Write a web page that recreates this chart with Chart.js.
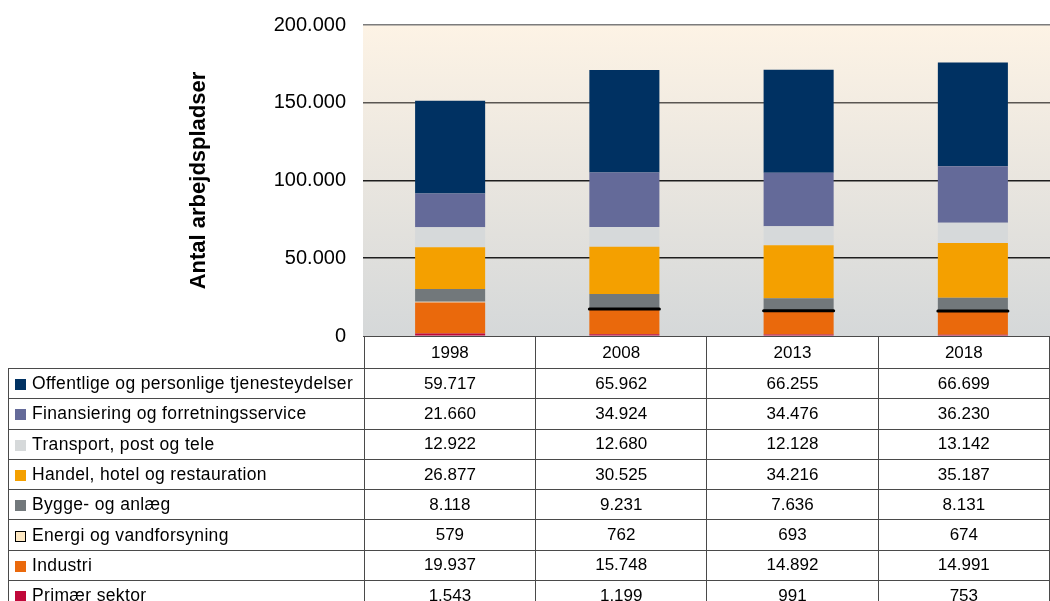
<!DOCTYPE html>
<html>
<head>
<meta charset="utf-8">
<script src="https://cdn.jsdelivr.net/npm/chart.js@4"></script>
<style>
  html, body { margin: 0; padding: 0; background: #fff; width: 1050px; height: 601px; overflow: hidden; position: relative; }
  #wrap { position: absolute; left: 0; top: 0; width: 1062px; height: 352px; z-index: 1; }
  #tbl { position: absolute; left: 8px; top: 336px; z-index: 2; border-collapse: collapse; table-layout: fixed; font-family: "Liberation Sans", Arial, sans-serif; color: #000; }
  #tbl td { border: 1px solid #4a4a4a; padding: 0; height: 29.3px; text-align: center; font-size: 17px; white-space: nowrap; overflow: hidden; background: #fff; }
  #tbl tr.head td { height: 31px; }
  #tbl tr.head td.blank { border: none; border-bottom: 1px solid #4a4a4a; background: transparent; }
  #tbl td.lab { text-align: left; padding-left: 6px; font-size: 17.5px; letter-spacing: 0.35px; }
  .mk { display: inline-block; width: 11px; height: 11px; margin-right: 6px; vertical-align: -1px; box-sizing: border-box; }
</style>
</head>
<body>
<div id="wrap"><canvas id="c" width="1062" height="352"></canvas></div>
<table id="tbl">
  <colgroup><col style="width:356px"><col style="width:174px"><col style="width:174px"><col style="width:174px"><col style="width:174px"></colgroup>
  <tbody id="tb"></tbody>
</table>
<script>
const years = ['1998', '2008', '2013', '2018'];
const offentlige = [59717, 65962, 66255, 66699];
const finansiering = [21660, 34924, 34476, 36230];
const transport = [12922, 12680, 12128, 13142];
const handel = [26877, 30525, 34216, 35187];
const bygge = [8118, 9231, 7636, 8131];
const energi = [579, 762, 693, 674];
const industri = [19937, 15748, 14892, 14991];
const primaer = [1543, 1199, 991, 753];
const yTicks = [0, 50000, 100000, 150000, 200000];
const yAxisTitle = 'Antal arbejdspladser';

// stacking order bottom -> top
const series = [
  { label: 'Primær sektor', data: primaer, color: '#c0083a' },
  { label: 'Industri', data: industri, color: '#ea690c' },
  { label: 'Energi og vandforsyning', data: energi, color: '#fde8c2', outline: [0, 3, 3, 3] },
  { label: 'Bygge- og anlæg', data: bygge, color: '#72787b' },
  { label: 'Handel, hotel og restauration', data: handel, color: '#f4a000' },
  { label: 'Transport, post og tele', data: transport, color: '#d6d9da' },
  { label: 'Finansiering og forretningsservice', data: finansiering, color: '#646a99' },
  { label: 'Offentlige og personlige tjenesteydelser', data: offentlige, color: '#003162' }
];

function fmt(v) { return String(v).replace(/\B(?=(\d{3})+(?!\d))/g, '.'); }

const bgPlugin = {
  id: 'bgGrad',
  beforeDraw(chart) {
    const { ctx, chartArea: a } = chart;
    const g = ctx.createLinearGradient(0, a.top, 0, a.bottom);
    g.addColorStop(0, '#fdf3e5');
    g.addColorStop(1, '#d5d8d9');
    ctx.save();
    ctx.fillStyle = g;
    ctx.fillRect(a.left, a.top, a.right - a.left, a.bottom - a.top);
    ctx.restore();
  }
};

const outlinePlugin = {
  id: 'energiOutline',
  afterDatasetsDraw(chart) {
    const ctx = chart.ctx;
    chart.data.datasets.forEach((ds, di) => {
      if (!ds.outline) return;
      const meta = chart.getDatasetMeta(di);
      meta.data.forEach((el, i) => {
        const w = ds.outline[i];
        if (!w) return;
        const y = (el.y + el.base) / 2;
        ctx.save();
        ctx.strokeStyle = '#000';
        ctx.lineWidth = w;
        ctx.lineCap = 'round';
        ctx.beginPath();
        ctx.moveTo(el.x - el.width / 2, y);
        ctx.lineTo(el.x + el.width / 2, y);
        ctx.stroke();
        ctx.restore();
      });
    });
  }
};

const gridColors = { 0: '#4a4a4a', 50000: '#1e1e1e', 100000: '#1e1e1e', 150000: '#5a5652', 200000: '#7c7c7c' };

new Chart(document.getElementById('c'), {
  type: 'bar',
  data: {
    labels: years,
    datasets: series.map(s => ({
      label: s.label, data: s.data, backgroundColor: s.color, borderWidth: 0,
      outline: s.outline, barPercentage: 0.402, categoryPercentage: 1
    }))
  },
  options: {
    responsive: false,
    animation: false,
    devicePixelRatio: 1,
    layout: { padding: { top: 25, right: 2, bottom: 16, left: 0 } },
    plugins: { legend: { display: false }, tooltip: { enabled: false }, title: { display: false } },
    scales: {
      x: { stacked: true, display: false },
      y: {
        stacked: true, min: 0, max: 200000,
        afterBuildTicks(scale) { scale.ticks = yTicks.map(v => ({ value: v })); },
        afterFit(scale) { scale.width = 363; scale.paddingTop = 0; scale.paddingBottom = 0; },
        border: { display: false },
        grid: {
          drawTicks: false,
          color: c => gridColors[c.tick.value] || '#333',
          lineWidth: c => (c.tick.value === 0 ? 1 : 1.6)
        },
        ticks: {
          padding: 17, color: '#000',
          font: { family: '"Liberation Sans", Arial, sans-serif', size: 20 },
          callback: v => fmt(v)
        },
        title: {
          display: true, text: yAxisTitle, color: '#000',
          font: { family: '"Liberation Sans", Arial, sans-serif', size: 22, weight: 'bold' },
          padding: { top: 186, bottom: 0 }
        }
      }
    }
  },
  plugins: [bgPlugin, outlinePlugin]
});

// data table under the chart
const tb = document.getElementById('tb');
let html = '<tr class="head"><td class="blank"></td>' + years.map(y => '<td>' + y + '</td>').join('') + '</tr>';
series.slice().reverse().forEach(s => {
  const mkStyle = s.outline ? 'background:' + s.color + ';border:1.5px solid #000;' : 'background:' + s.color + ';';
  html += '<tr><td class="lab"><span class="mk" style="' + mkStyle + '"></span>' + s.label + '</td>' +
    s.data.map(v => '<td>' + fmt(v) + '</td>').join('') + '</tr>';
});
tb.innerHTML = html;
</script>
</body>
</html>
